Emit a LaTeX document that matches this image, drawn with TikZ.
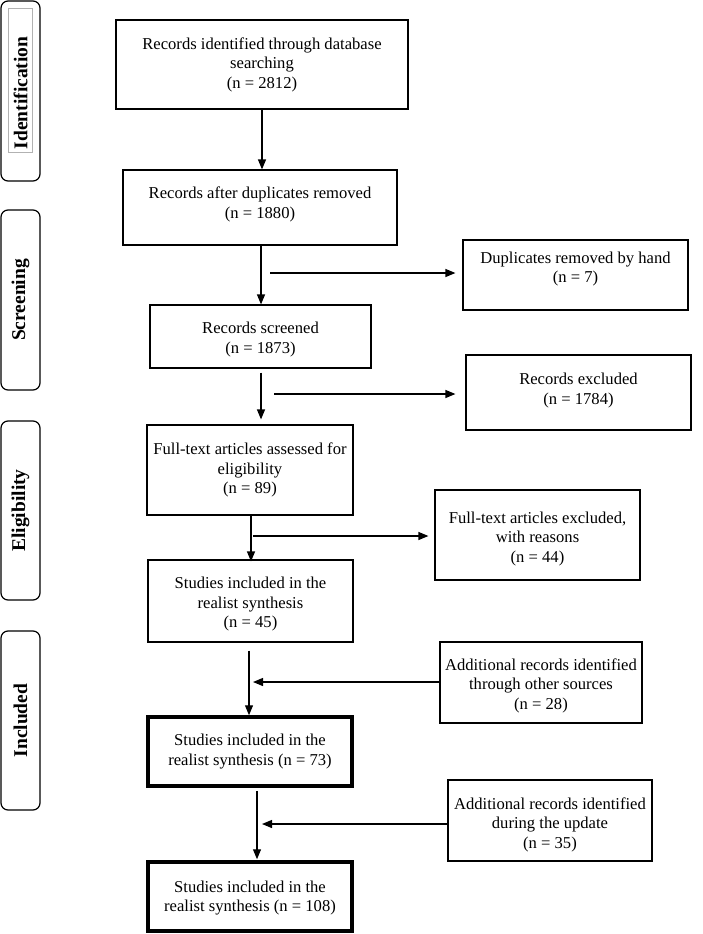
\documentclass[tikz,border=0pt]{standalone}
\usepackage{fontspec}
\setmainfont{Liberation Serif}
\usetikzlibrary{arrows.meta}
\begin{document}
\begin{tikzpicture}[x=1pt,y=-1pt,
  box/.style={draw, line width=1.2pt, inner sep=0pt},
  thickbox/.style={box, line width=3.5pt},
  txt/.style={align=center, inner sep=0pt, font=\fontsize{16.6}{19.5}\selectfont},
  phase/.style={draw, line width=1.2pt, rounded corners=7pt, minimum width=39pt},
  phaselabel/.style={rotate=90, font=\fontsize{19.5}{22}\selectfont\bfseries},
  arr/.style={line width=1.2pt, -{Triangle[length=10pt,width=8pt]}}]
\useasboundingbox (0,0) rectangle (702,934);

% phase bars
\node[phase, minimum height=180pt] (pid) at (20.5,91) {};
\node[phase, minimum height=180pt] (psc) at (20.5,300) {};
\node[phase, minimum height=179pt] (pel) at (20.5,510.5) {};
\node[phase, minimum height=179pt] (pin) at (20.5,720.5) {};
\node[draw=gray!60, line width=0.6pt, minimum width=24pt, minimum height=144pt] (pidf) at (20,80) {};
\node[phaselabel] (lid) at ([yshift=-2pt]pid.center) {Identification};
\node[phaselabel] (lsc) at (psc) {Screening};
\node[phaselabel] (lel) at (pel) {Eligibility};
\node[phaselabel] (lin) at (pin) {Included};

% main column boxes
\node[box, minimum width=292pt, minimum height=89pt] (b1) at (262,64.5) {};
\node[box, minimum width=274pt, minimum height=75pt] (b2) at (260,207.5) {};
\node[box, minimum width=221pt, minimum height=63pt] (b3) at (260.5,336.5) {};
\node[box, minimum width=206pt, minimum height=90pt] (b4) at (250,470) {};
\node[box, minimum width=205pt, minimum height=82pt] (b5) at (250.5,601) {};
\node[thickbox, minimum width=204pt, minimum height=69pt] (b6) at (250,751.5) {};
\node[thickbox, minimum width=204pt, minimum height=69pt] (b7) at (250,896.5) {};

% side boxes
\node[box, minimum width=225pt, minimum height=70pt] (d1) at (575.5,275) {};
\node[box, minimum width=225pt, minimum height=75pt] (d2) at (578.5,392.5) {};
\node[box, minimum width=205pt, minimum height=90pt] (d3) at (537.5,535) {};
\node[box, minimum width=202pt, minimum height=81pt] (a1) at (541,682.5) {};
\node[box, minimum width=204pt, minimum height=81pt] (a2) at (550,820.5) {};

% texts
\node[txt] (b1t) at (b1.center) {Records identified through database\\searching\\(n = 2812)};
\node[txt] (b2t) at ([yshift=3pt]b2.center) {Records after duplicates removed\\(n = 1880)};
\node[txt] (b3t) at ([yshift=-3pt]b3.center) {Records screened\\(n = 1873)};
\node[txt] (b4t) at (b4.center) {Full-text articles assessed for\\eligibility\\(n = 89)};
\node[txt] (b5t) at ([yshift=-3.5pt]b5.center) {Studies included in the\\realist synthesis\\(n = 45)};
\node[txt] (b6t) at (b6.center) {Studies included in the\\realist synthesis (n = 73)};
\node[txt] (b7t) at ([yshift=-1.5pt]b7.center) {Studies included in the\\realist synthesis (n = 108)};
\node[txt] (d1t) at ([yshift=6pt]d1.center) {Duplicates removed by hand\\(n = 7)};
\node[txt] (d2t) at ([yshift=2pt]d2.center) {Records excluded\\(n = 1784)};
\node[txt] (d3t) at ([yshift=-4pt]d3.center) {Full-text articles excluded,\\with reasons\\(n = 44)};
\node[txt] (a1t) at ([yshift=-3pt]a1.center) {Additional records identified\\through other sources\\(n = 28)};
\node[txt] (a2t) at ([yshift=-4pt]a2.center) {Additional records identified\\during the update\\(n = 35)};

% vertical arrows
\draw[arr] (b1.south) -- (b1.south |- b2.north);
\draw[arr] (b2.south -| 261,0) -- (b3.north -| 261,0);
\draw[arr, shorten <=4pt, shorten >=5pt] (b3.south -| 261,0) -- (b4.north -| 261,0);
\draw[arr, shorten >=-2pt] (b4.south -| 251,0) -- (b5.north -| 251,0);
\draw[arr, shorten <=8pt] (b5.south -| 249,0) -- (b6.north -| 249,0);
\draw[arr, shorten <=3pt, shorten >=1pt] (b6.south -| 257,0) -- (b7.north -| 257,0);

% horizontal arrows
\coordinate (s1) at (270,273);
\coordinate (s2) at (274,394);
\coordinate (s3) at (253,536);
\coordinate (s4) at (253,682);
\coordinate (s5) at (262,824);
\draw[arr, shorten >=7pt] (s1) -- (s1 -| d1.west);
\draw[arr, shorten >=10pt] (s2) -- (s2 -| d2.west);
\draw[arr, shorten >=6pt] (s3) -- (s3 -| d3.west);
\draw[arr] (s4 -| a1.west) -- (s4);
\draw[arr] (s5 -| a2.west) -- (s5);
\end{tikzpicture}
\end{document}
